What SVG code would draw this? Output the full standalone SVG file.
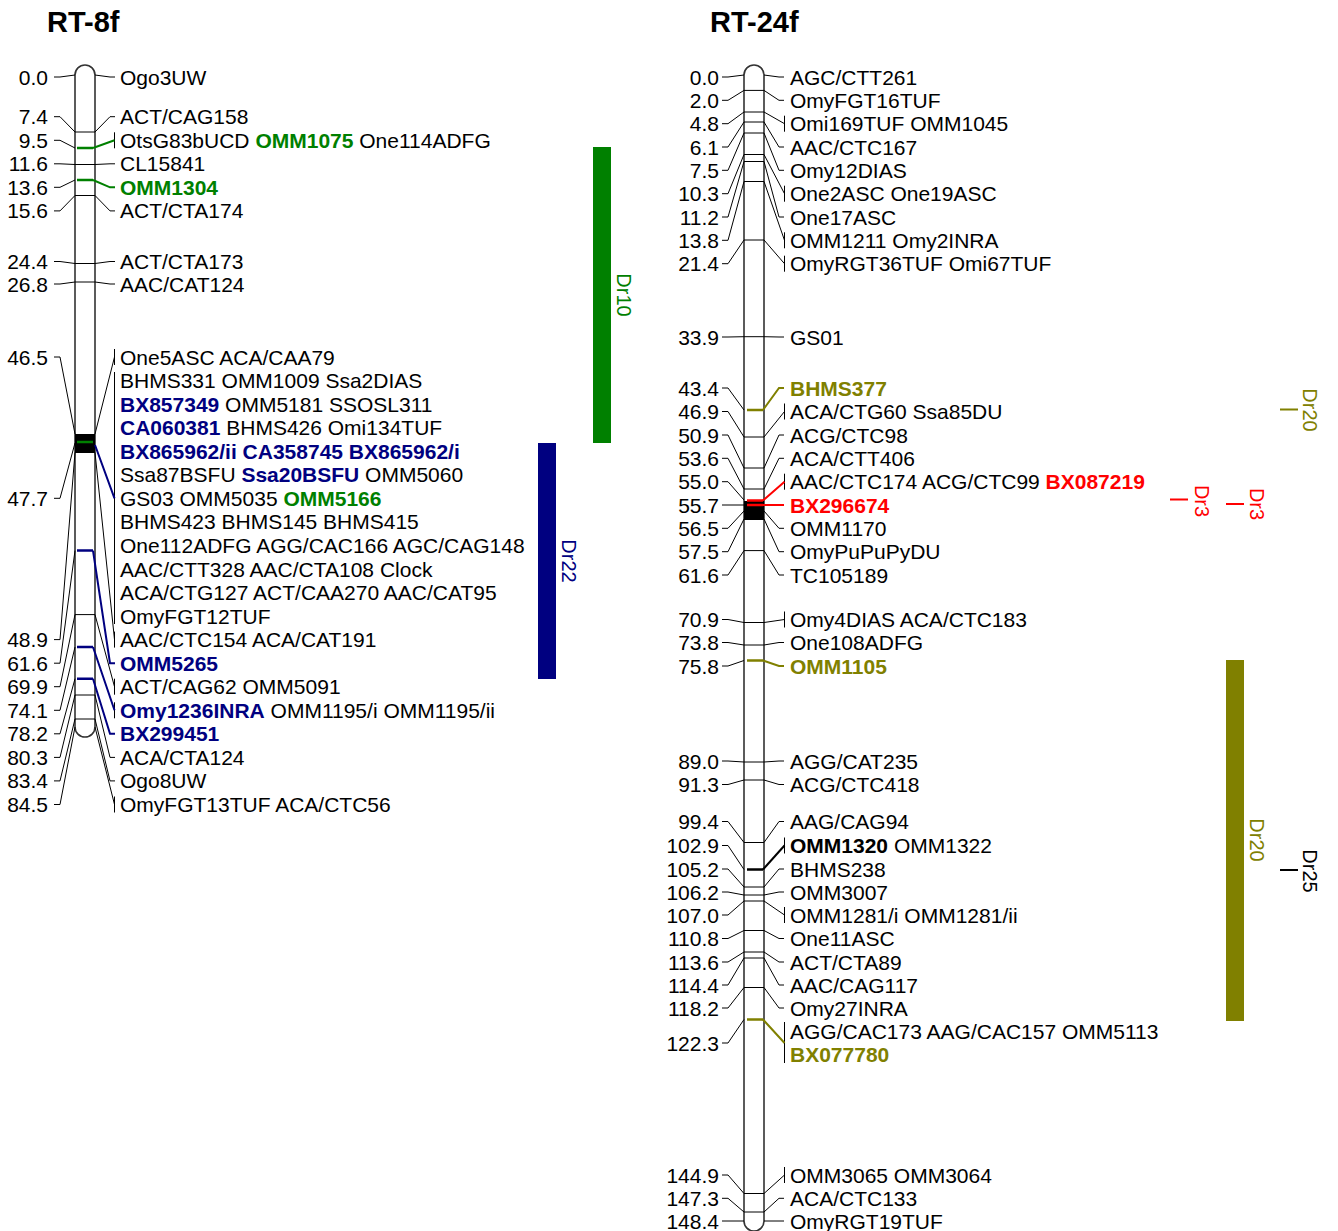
<svg xmlns="http://www.w3.org/2000/svg" width="1338" height="1231" viewBox="0 0 1338 1231">
<style>
text{font-family:"Liberation Sans",Arial,Helvetica,sans-serif;font-size:21px;fill:#000}
.n{text-anchor:end}
.b{font-weight:bold}
.g{fill:#008000}.nv{fill:#000080}.o{fill:#808000}.r{fill:#ff0000}
.title{font-size:29px;font-weight:bold}
.q{font-size:20px;text-anchor:middle}
.chr{fill:#fff;stroke:#333;stroke-width:1.6}
.m{stroke:#000;stroke-width:1;fill:none}
.c{fill:none;stroke:#000;stroke-width:1}
.cg{fill:none;stroke:#008000;stroke-width:2}
.cn{fill:none;stroke:#000080;stroke-width:2}
.co{fill:none;stroke:#808000;stroke-width:2}
.cr{fill:none;stroke:#ff0000;stroke-width:2}
.cb{fill:none;stroke:#000;stroke-width:2}
.mg{stroke:#008000;stroke-width:2.5}
.mn{stroke:#000080;stroke-width:2.5}
.mo{stroke:#808000;stroke-width:2.5}
.mr{stroke:#ff0000;stroke-width:2.5}
.mb{stroke:#000;stroke-width:2.5}
</style>
<rect width="1338" height="1231" fill="#fff"/>
<text class="title" x="47" y="32">RT-8f</text>
<text class="title" x="710" y="32">RT-24f</text>

<!-- chromosome RT-8f -->
<g id="chr-RT-8f">
<path class="chr" d="M75,75A10,10 0 0 1 95,75L95,727A10,10 0 0 1 75,727Z"/>
<g class="m">
<path d="M75,132H95M75,164.5H95M75,195.5H95M75,263.5H95M75,282H95M75,614.6H95M75,695H95M75,719H95"/>
</g>
<rect x="75" y="434" width="20" height="19" fill="#000"/>
<path class="mg" d="M77,148H93M77,180H93M77,442H93"/>
<path class="mn" d="M77,550.6H93M77,647H93M77,678.7H93"/>
</g>

<!-- chromosome RT-24f -->
<g id="chr-RT-24f">
<path class="chr" d="M744,75A10,10 0 0 1 764,75L764,1221A10,10 0 0 1 744,1221Z"/>
<path class="m" d="M744,90.4H764M744,112H764M744,122H764M744,133H764M744,154.5H764M744,161.5H764M744,181.5H764M744,240H764M744,336.7H764M744,437H764M744,468H764M744,489H764M744,550.6H764M744,622.5H764M744,645H764M744,762H764M744,780H764M744,842.5H764M744,887H764M744,895H764M744,901H764M744,930.5H764M744,952H764M744,958H764M744,987.5H764M744,1193.5H764M744,1212H764"/>
<rect x="744" y="501" width="20" height="19" fill="#000"/>
<path class="mo" d="M747,410H763M747,660.5H763M747,1019.5H763"/>
<path class="mr" d="M747,500.5H763M747,505H763"/>
<path class="mb" d="M747,869.5H763"/>
</g>

<!-- connectors -->
<g id="connectors">
<path class="c" d="M54,77H60L75,75M95,75L110,77H115
M54,116.7H60L75,132M95,132L110,116.7H115
M54,140.3H60L75,148M114.5,132.3V148.3
M54,163.8H60L75,164.5M95,164.5L110,163.8H115
M54,187.3H60L75,180
M54,210.9H60L75,195.5M95,195.5L110,210.9H115
M54,261.5H60L75,263.5M95,263.5L110,261.5H115
M54,284H60L75,282M95,282L110,284H115
M54,357H60L75,434M95,434L114.5,357M114.5,349V365
M54,498.3H60L75,443M114.5,372V624
M54,639.6H60L75,452.5M95,452.5L114.5,639.6M114.5,631.6V647.6
M54,663.2H60L75,550.6
M54,686.7H60L75,614.6M95,614.6L114.5,686.7M114.5,678.7V694.7
M54,710.3H60L75,647M114.5,702.3V718.3
M54,733.8H60L75,678.7
M54,757.4H60L75,695M95,695L110,757.4H115
M54,780.9H60L75,719M95,719L110,780.9H115
M54,804.5H60L75,727M95,727L114.5,804.5M114.5,796.5V812.5"/>
<path class="cg" d="M93,148L114.5,140.3M93,180L110,187.3H115"/>
<path class="cn" d="M95,445L114.5,498.3M93,550.6L110,663.2H115M93,647L114.5,710.3M93,678.7L110,733.8H115"/>

<path class="c" d="M722,77H728L744,75M764,75L779,77H784
M722,100.3H728L744,90.4M764,90.4L779,100.3H784
M722,123.7H728L744,112M764,112L784.5,123.7M784.5,115.7V131.7
M722,147H728L744,122M764,122L779,147H784
M722,170.3H728L744,133M764,133L779,170.3H784
M722,193.7H728L744,154.5M764,154.5L784.5,193.7M784.5,185.7V201.7
M722,217H728L744,161.5M764,161.5L779,217H784
M722,240.3H728L744,181.5M764,181.5L784.5,240.3M784.5,232.3V248.3
M722,263.7H728L744,240M764,240L784.5,263.7M784.5,255.7V271.7
M722,337H728L744,336.7M764,336.7L779,337H784
M722,388H728L744,410
M722,411.5H728L744,437M764,437L784.5,411.5M784.5,403.5V419.5
M722,435H728L744,468M764,468L779,435H784
M722,458.3H728L744,489M764,489L779,458.3H784
M722,481.7H728L744,500M784.5,473.7V489.7
M722,505H728L744,505
M722,528.3H728L744,511M764,511L779,528.3H784
M722,551.7H728L744,519M764,519L779,551.7H784
M722,575H728L744,550.6M764,550.6L779,575H784
M722,619.5H728L744,622.5M764,622.5L784.5,619.5M784.5,611.5V627.5
M722,642.5H728L744,645M764,645L779,642.5H784
M722,666H728L744,660.5
M722,761H728L744,762M764,762L779,761H784
M722,784.5H728L744,780M764,780L779,784.5H784
M722,821.5H728L744,842.5M764,842.5L779,821.5H784
M722,845.5H728L744,869.5M784.5,837.5V853.5
M722,869H728L744,887M764,887L779,869H784
M722,892H728L744,895M764,895L779,892H784
M722,915H728L744,901M764,901L784.5,915M784.5,907V923
M722,938.5H728L744,930.5M764,930.5L779,938.5H784
M722,962H728L744,952M764,952L779,962H784
M722,985H728L744,958M764,958L779,985H784
M722,1008H728L744,987.5M764,987.5L779,1008H784
M722,1043H728L744,1019.5M784.5,1022V1063
M722,1175H728L744,1193.5M764,1193.5L784.5,1175M784.5,1167V1183
M722,1198.3H728L744,1212M764,1212L779,1198.3H784
M722,1221H728L744,1221M764,1221L779,1221H784"/>
<path class="co" d="M763,410L779,388H784M763,660.5L779,666H784M763,1019.5L784.5,1043"/>
<path class="cr" d="M763,500.5L784.5,481.7M763,505H784"/>
<path class="cb" d="M763,869.5L784.5,845.5"/>
</g>

<!-- loci RT-8f -->
<g id="L1"><text class="n" x="48" y="84.5">0.0</text><text x="120" y="84.5">Ogo3UW</text></g>
<g id="L2"><text class="n" x="48" y="124.2">7.4</text><text x="120" y="124.2">ACT/CAG158</text></g>
<g id="L3"><text class="n" x="48" y="147.8">9.5</text><text x="120" y="147.8">OtsG83bUCD <tspan class="b g">OMM1075</tspan> One114ADFG</text></g>
<g id="L4"><text class="n" x="48" y="171.3">11.6</text><text x="120" y="171.3">CL15841</text></g>
<g id="L5"><text class="n" x="48" y="194.8">13.6</text><text class="b g" x="120" y="194.8">OMM1304</text></g>
<g id="L6"><text class="n" x="48" y="218.4">15.6</text><text x="120" y="218.4">ACT/CTA174</text></g>
<g id="L7"><text class="n" x="48" y="269">24.4</text><text x="120" y="269">ACT/CTA173</text></g>
<g id="L8"><text class="n" x="48" y="291.5">26.8</text><text x="120" y="291.5">AAC/CAT124</text></g>
<g id="L9"><text class="n" x="48" y="364.5">46.5</text><text x="120" y="364.5">One5ASC ACA/CAA79</text></g>
<g id="L10"><text class="n" x="48" y="505.8">47.7</text>
<text x="120" y="388.1">BHMS331 OMM1009 Ssa2DIAS</text>
<text x="120" y="411.6"><tspan class="b nv">BX857349</tspan> OMM5181 SSOSL311</text>
<text x="120" y="435.2"><tspan class="b nv">CA060381</tspan> BHMS426 Omi134TUF</text>
<text class="b nv" x="120" y="458.7">BX865962/ii CA358745 BX865962/i</text>
<text x="120" y="482.3">Ssa87BSFU <tspan class="b nv">Ssa20BSFU</tspan> OMM5060</text>
<text x="120" y="505.8">GS03 OMM5035 <tspan class="b g">OMM5166</tspan></text>
<text x="120" y="529.4">BHMS423 BHMS145 BHMS415</text>
<text x="120" y="552.9">One112ADFG AGG/CAC166 AGC/CAG148</text>
<text x="120" y="576.5">AAC/CTT328 AAC/CTA108 Clock</text>
<text x="120" y="600">ACA/CTG127 ACT/CAA270 AAC/CAT95</text>
<text x="120" y="623.6">OmyFGT12TUF</text></g>
<g id="L11"><text class="n" x="48" y="647.1">48.9</text><text x="120" y="647.1">AAC/CTC154 ACA/CAT191</text></g>
<g id="L12"><text class="n" x="48" y="670.7">61.6</text><text class="b nv" x="120" y="670.7">OMM5265</text></g>
<g id="L13"><text class="n" x="48" y="694.2">69.9</text><text x="120" y="694.2">ACT/CAG62 OMM5091</text></g>
<g id="L14"><text class="n" x="48" y="717.8">74.1</text><text x="120" y="717.8"><tspan class="b nv">Omy1236INRA</tspan> OMM1195/i OMM1195/ii</text></g>
<g id="L15"><text class="n" x="48" y="741.3">78.2</text><text class="b nv" x="120" y="741.3">BX299451</text></g>
<g id="L16"><text class="n" x="48" y="764.9">80.3</text><text x="120" y="764.9">ACA/CTA124</text></g>
<g id="L17"><text class="n" x="48" y="788.4">83.4</text><text x="120" y="788.4">Ogo8UW</text></g>
<g id="L18"><text class="n" x="48" y="812">84.5</text><text x="120" y="812">OmyFGT13TUF ACA/CTC56</text></g>

<!-- loci RT-24f -->
<g id="R1"><text class="n" x="719" y="84.5">0.0</text><text x="790" y="84.5">AGC/CTT261</text></g>
<g id="R2"><text class="n" x="719" y="107.8">2.0</text><text x="790" y="107.8">OmyFGT16TUF</text></g>
<g id="R3"><text class="n" x="719" y="131.2">4.8</text><text x="790" y="131.2">Omi169TUF OMM1045</text></g>
<g id="R4"><text class="n" x="719" y="154.5">6.1</text><text x="790" y="154.5">AAC/CTC167</text></g>
<g id="R5"><text class="n" x="719" y="177.8">7.5</text><text x="790" y="177.8">Omy12DIAS</text></g>
<g id="R6"><text class="n" x="719" y="201.2">10.3</text><text x="790" y="201.2">One2ASC One19ASC</text></g>
<g id="R7"><text class="n" x="719" y="224.5">11.2</text><text x="790" y="224.5">One17ASC</text></g>
<g id="R8"><text class="n" x="719" y="247.8">13.8</text><text x="790" y="247.8">OMM1211 Omy2INRA</text></g>
<g id="R9"><text class="n" x="719" y="271.2">21.4</text><text x="790" y="271.2">OmyRGT36TUF Omi67TUF</text></g>
<g id="R10"><text class="n" x="719" y="344.5">33.9</text><text x="790" y="344.5">GS01</text></g>
<g id="R11"><text class="n" x="719" y="395.5">43.4</text><text class="b o" x="790" y="395.5">BHMS377</text></g>
<g id="R12"><text class="n" x="719" y="419">46.9</text><text x="790" y="419">ACA/CTG60 Ssa85DU</text></g>
<g id="R13"><text class="n" x="719" y="442.5">50.9</text><text x="790" y="442.5">ACG/CTC98</text></g>
<g id="R14"><text class="n" x="719" y="465.8">53.6</text><text x="790" y="465.8">ACA/CTT406</text></g>
<g id="R15"><text class="n" x="719" y="489.2">55.0</text><text x="790" y="489.2">AAC/CTC174 ACG/CTC99 <tspan class="b r">BX087219</tspan></text></g>
<g id="R16"><text class="n" x="719" y="512.5">55.7</text><text class="b r" x="790" y="512.5">BX296674</text></g>
<g id="R17"><text class="n" x="719" y="535.8">56.5</text><text x="790" y="535.8">OMM1170</text></g>
<g id="R18"><text class="n" x="719" y="559.2">57.5</text><text x="790" y="559.2">OmyPuPuPyDU</text></g>
<g id="R19"><text class="n" x="719" y="582.5">61.6</text><text x="790" y="582.5">TC105189</text></g>
<g id="R20"><text class="n" x="719" y="627">70.9</text><text x="790" y="627">Omy4DIAS ACA/CTC183</text></g>
<g id="R21"><text class="n" x="719" y="650">73.8</text><text x="790" y="650">One108ADFG</text></g>
<g id="R22"><text class="n" x="719" y="673.5">75.8</text><text class="b o" x="790" y="673.5">OMM1105</text></g>
<g id="R23"><text class="n" x="719" y="768.5">89.0</text><text x="790" y="768.5">AGG/CAT235</text></g>
<g id="R24"><text class="n" x="719" y="792">91.3</text><text x="790" y="792">ACG/CTC418</text></g>
<g id="R25"><text class="n" x="719" y="829">99.4</text><text x="790" y="829">AAG/CAG94</text></g>
<g id="R26"><text class="n" x="719" y="853">102.9</text><text x="790" y="853"><tspan class="b">OMM1320</tspan> OMM1322</text></g>
<g id="R27"><text class="n" x="719" y="876.5">105.2</text><text x="790" y="876.5">BHMS238</text></g>
<g id="R28"><text class="n" x="719" y="899.5">106.2</text><text x="790" y="899.5">OMM3007</text></g>
<g id="R29"><text class="n" x="719" y="922.5">107.0</text><text x="790" y="922.5">OMM1281/i OMM1281/ii</text></g>
<g id="R30"><text class="n" x="719" y="946">110.8</text><text x="790" y="946">One11ASC</text></g>
<g id="R31"><text class="n" x="719" y="969.5">113.6</text><text x="790" y="969.5">ACT/CTA89</text></g>
<g id="R32"><text class="n" x="719" y="992.5">114.4</text><text x="790" y="992.5">AAC/CAG117</text></g>
<g id="R33"><text class="n" x="719" y="1015.5">118.2</text><text x="790" y="1015.5">Omy27INRA</text></g>
<g id="R34"><text class="n" x="719" y="1050.5">122.3</text><text x="790" y="1038.5">AGG/CAC173 AAG/CAC157 OMM5113</text><text class="b o" x="790" y="1062">BX077780</text></g>
<g id="R35"><text class="n" x="719" y="1182.5">144.9</text><text x="790" y="1182.5">OMM3065 OMM3064</text></g>
<g id="R36"><text class="n" x="719" y="1205.8">147.3</text><text x="790" y="1205.8">ACA/CTC133</text></g>
<g id="R37"><text class="n" x="719" y="1228.5">148.4</text><text x="790" y="1228.5">OmyRGT19TUF</text></g>

<!-- QTL bars -->
<g id="qtl-Dr10"><rect x="593" y="147" width="18" height="296" fill="#008000"/><text class="q g" transform="translate(617,295) rotate(90)">Dr10</text></g>
<g id="qtl-Dr22"><rect x="538" y="443" width="18" height="236" fill="#000080"/><text class="q nv" transform="translate(561.5,561) rotate(90)">Dr22</text></g>
<g id="qtl-Dr20a"><rect x="1280" y="408.5" width="18" height="2" fill="#808000"/><text class="q o" transform="translate(1303,410) rotate(90)">Dr20</text></g>
<g id="qtl-Dr3a"><rect x="1170" y="498.5" width="18" height="2" fill="#ff0000"/><text class="q r" transform="translate(1195,501) rotate(90)">Dr3</text></g>
<g id="qtl-Dr3b"><rect x="1226" y="503" width="18" height="2" fill="#ff0000"/><text class="q r" transform="translate(1250,504) rotate(90)">Dr3</text></g>
<g id="qtl-Dr20b"><rect x="1226" y="660" width="18" height="361" fill="#808000"/><text class="q o" transform="translate(1250,840) rotate(90)">Dr20</text></g>
<g id="qtl-Dr25"><rect x="1280" y="869" width="18" height="2" fill="#000"/><text class="q" transform="translate(1303,871) rotate(90)">Dr25</text></g>
</svg>
